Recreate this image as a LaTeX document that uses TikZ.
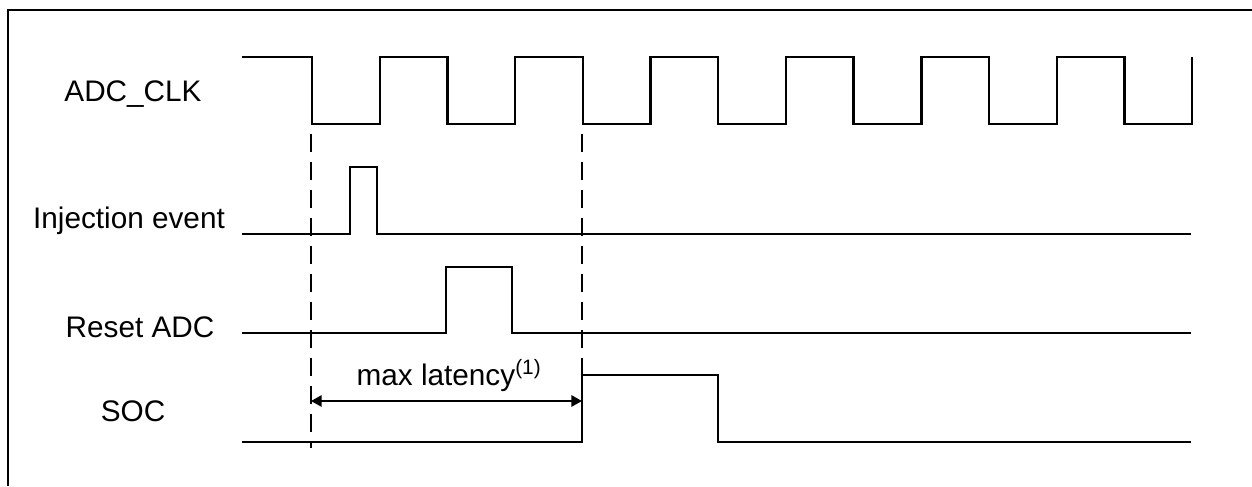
\documentclass[tikz,border=0pt]{standalone}
\usepackage{fontspec}
\setmainfont{Liberation Sans}
\usetikzlibrary{arrows.meta}
\begin{document}
\begin{tikzpicture}[x=0.75pt, y=-0.75pt, line width=1.8pt,
    every node/.style={font=\fontsize{22.3}{26}\selectfont, anchor=base, inner sep=0pt}]
        \useasboundingbox (0,0) rectangle (1252,486);
        \draw (1252,10) -- (8,10) -- (8,486); % frame, cut at the page edge
        % signal names
        \node (clk) at (133,101) {ADC\_CLK};
        \node (inj) at (129,228) {Injection event};
        \node (rst) at (140,337) {Reset ADC};
        \node (soc) at (133,421) {SOC};
        % clock
        \draw (242,57) \foreach \k in {0,...,6}{
            -- ({312+135.4*\k},57) -- ({312+135.4*\k},124) -- ({379.7+135.4*\k},124) -- ({379.7+135.4*\k},57)};
        % single pulses
        \foreach \y/\a/\b/\h in {234/350/377/167, 333/446/512/267, 442/582/718/375}{
          \draw (242,\y) -- (\a,\y) -- (\a,\h) -- (\b,\h) -- (\b,\y) -- (1191,\y);
        }
        % latency window
        \coordinate (t0) at (311,134);
        \coordinate (t1) at (582,134);
        \coordinate (e0) at (311,448);
        \coordinate (e1) at (582,442);
        \draw[line width=1.4pt, dash pattern=on 13.5pt off 7.5pt] (t0) -- (e0);
        \draw[line width=1.4pt, dash pattern=on 13.5pt off 7.5pt] (t1) -- (e1);
        \coordinate (a0) at (311,401);
        \coordinate (a1) at (582,401);
        \draw[line width=1.4pt, {Triangle[length=8pt,width=8.5pt]}-{Triangle[length=8pt,width=8.5pt]}] (a0) -- (a1);
        \node (lat) at (449,385) {max latency\textsuperscript{(1)}};
    \end{tikzpicture}
\end{document}
